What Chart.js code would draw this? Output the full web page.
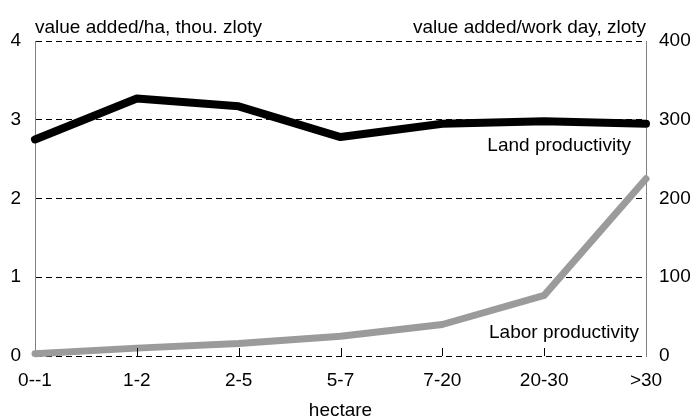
<!DOCTYPE html>
<html>
<head>
<meta charset="utf-8">
<script src="https://cdn.jsdelivr.net/npm/chart.js@4/dist/chart.umd.min.js"></script>
<style>
html,body{margin:0;padding:0;background:#fff;}
#wrap{width:694px;height:418px;position:relative;}
</style>
</head>
<body>
<div id="wrap"><canvas id="chart"></canvas></div>
<script>
var categories = ["0--1", "1-2", "2-5", "5-7", "7-20", "20-30", ">30"];
var landProductivity = [2.75, 3.27, 3.17, 2.78, 2.95, 2.98, 2.95];
var laborProductivity = [3, 10, 16, 25, 40, 77, 225];
var leftTicks = [0, 1, 2, 3, 4];
var rightTicks = [0, 100, 200, 300, 400];

var FONT = "Liberation Sans, Arial, sans-serif";
var fsize = 19;

var textPlugin = {
    id: "texts",
    afterDraw: function(chart){
        var ctx = chart.ctx;
        var area = chart.chartArea;
        var xs = chart.scales.x;
        ctx.save();
        // inward tick marks on the category axis
        ctx.strokeStyle = "#000";
        ctx.lineWidth = 1;
        for (var i = 1; i < categories.length - 1; i++) {
            var px = Math.round(xs.getPixelForTick(i)) + 0.5;
            ctx.beginPath();
            ctx.moveTo(px, area.bottom - 8);
            ctx.lineTo(px, area.bottom);
            ctx.stroke();
        }
        ctx.fillStyle = "#000";
        ctx.font = fsize + "px " + FONT;
        ctx.textBaseline = "alphabetic";
        ctx.textAlign = "left";
        ctx.fillText("value added/ha, thou. zloty", area.left, 33);
        ctx.textAlign = "right";
        ctx.fillText("value added/work day, zloty", area.right, 33);
        ctx.fillText("Land productivity", 631, 151);
        ctx.fillText("Labor productivity", 639, 338);
        ctx.textAlign = "center";
        ctx.fillText("hectare", (area.left + area.right) / 2, 416);
        ctx.restore();
    }
};

new Chart(document.getElementById("chart"), {
    type: "line",
    data: {
        labels: categories,
        datasets: [{
            label: "Land productivity",
            data: landProductivity,
            yAxisID: "y",
            borderColor: "#000",
            borderWidth: 8,
            borderCapStyle: "round",
            borderJoinStyle: "round",
            pointRadius: 0,
            tension: 0,
            clip: false
        }, {
            label: "Labor productivity",
            data: laborProductivity,
            yAxisID: "y1",
            borderColor: "#9b9b9b",
            borderWidth: 7,
            borderCapStyle: "round",
            borderJoinStyle: "round",
            pointRadius: 0,
            tension: 0,
            clip: false
        }]
    },
    options: {
        responsive: true,
        maintainAspectRatio: false,
        animation: false,
        layout: { padding: { top: 41, left: 0, right: 0, bottom: 0 } },
        plugins: {
            legend: { display: false },
            tooltip: { enabled: false },
            title: { display: false }
        },
        scales: {
            x: {
                offset: false,
                grid: { display: false, drawTicks: false },
                border: { display: false },
                ticks: { color: "#000", font: { family: FONT, size: fsize }, padding: 13, maxRotation: 0, autoSkip: false },
                afterFit: function(s){ s.height = 62; }
            },
            y: {
                position: "left",
                min: 0, max: 4,
                afterBuildTicks: function(s){ s.ticks = leftTicks.map(function(v){ return {value: v}; }); },
                grid: { color: "#000", lineWidth: 1, drawTicks: false },
                border: { display: true, color: "#808080", width: 1, dash: [6, 4] },
                ticks: { color: "#000", font: { family: FONT, size: fsize }, padding: 14 },
                afterFit: function(s){ s.width = 35; }
            },
            y1: {
                position: "right",
                min: 0, max: 400,
                afterBuildTicks: function(s){ s.ticks = rightTicks.map(function(v){ return {value: v}; }); },
                grid: { drawOnChartArea: false, drawTicks: false },
                border: { display: true, color: "#808080", width: 1 },
                ticks: { color: "#000", font: { family: FONT, size: fsize }, padding: 13 },
                afterFit: function(s){ s.width = 48; }
            }
        }
    },
    plugins: [textPlugin]
});
</script>
</body>
</html>
